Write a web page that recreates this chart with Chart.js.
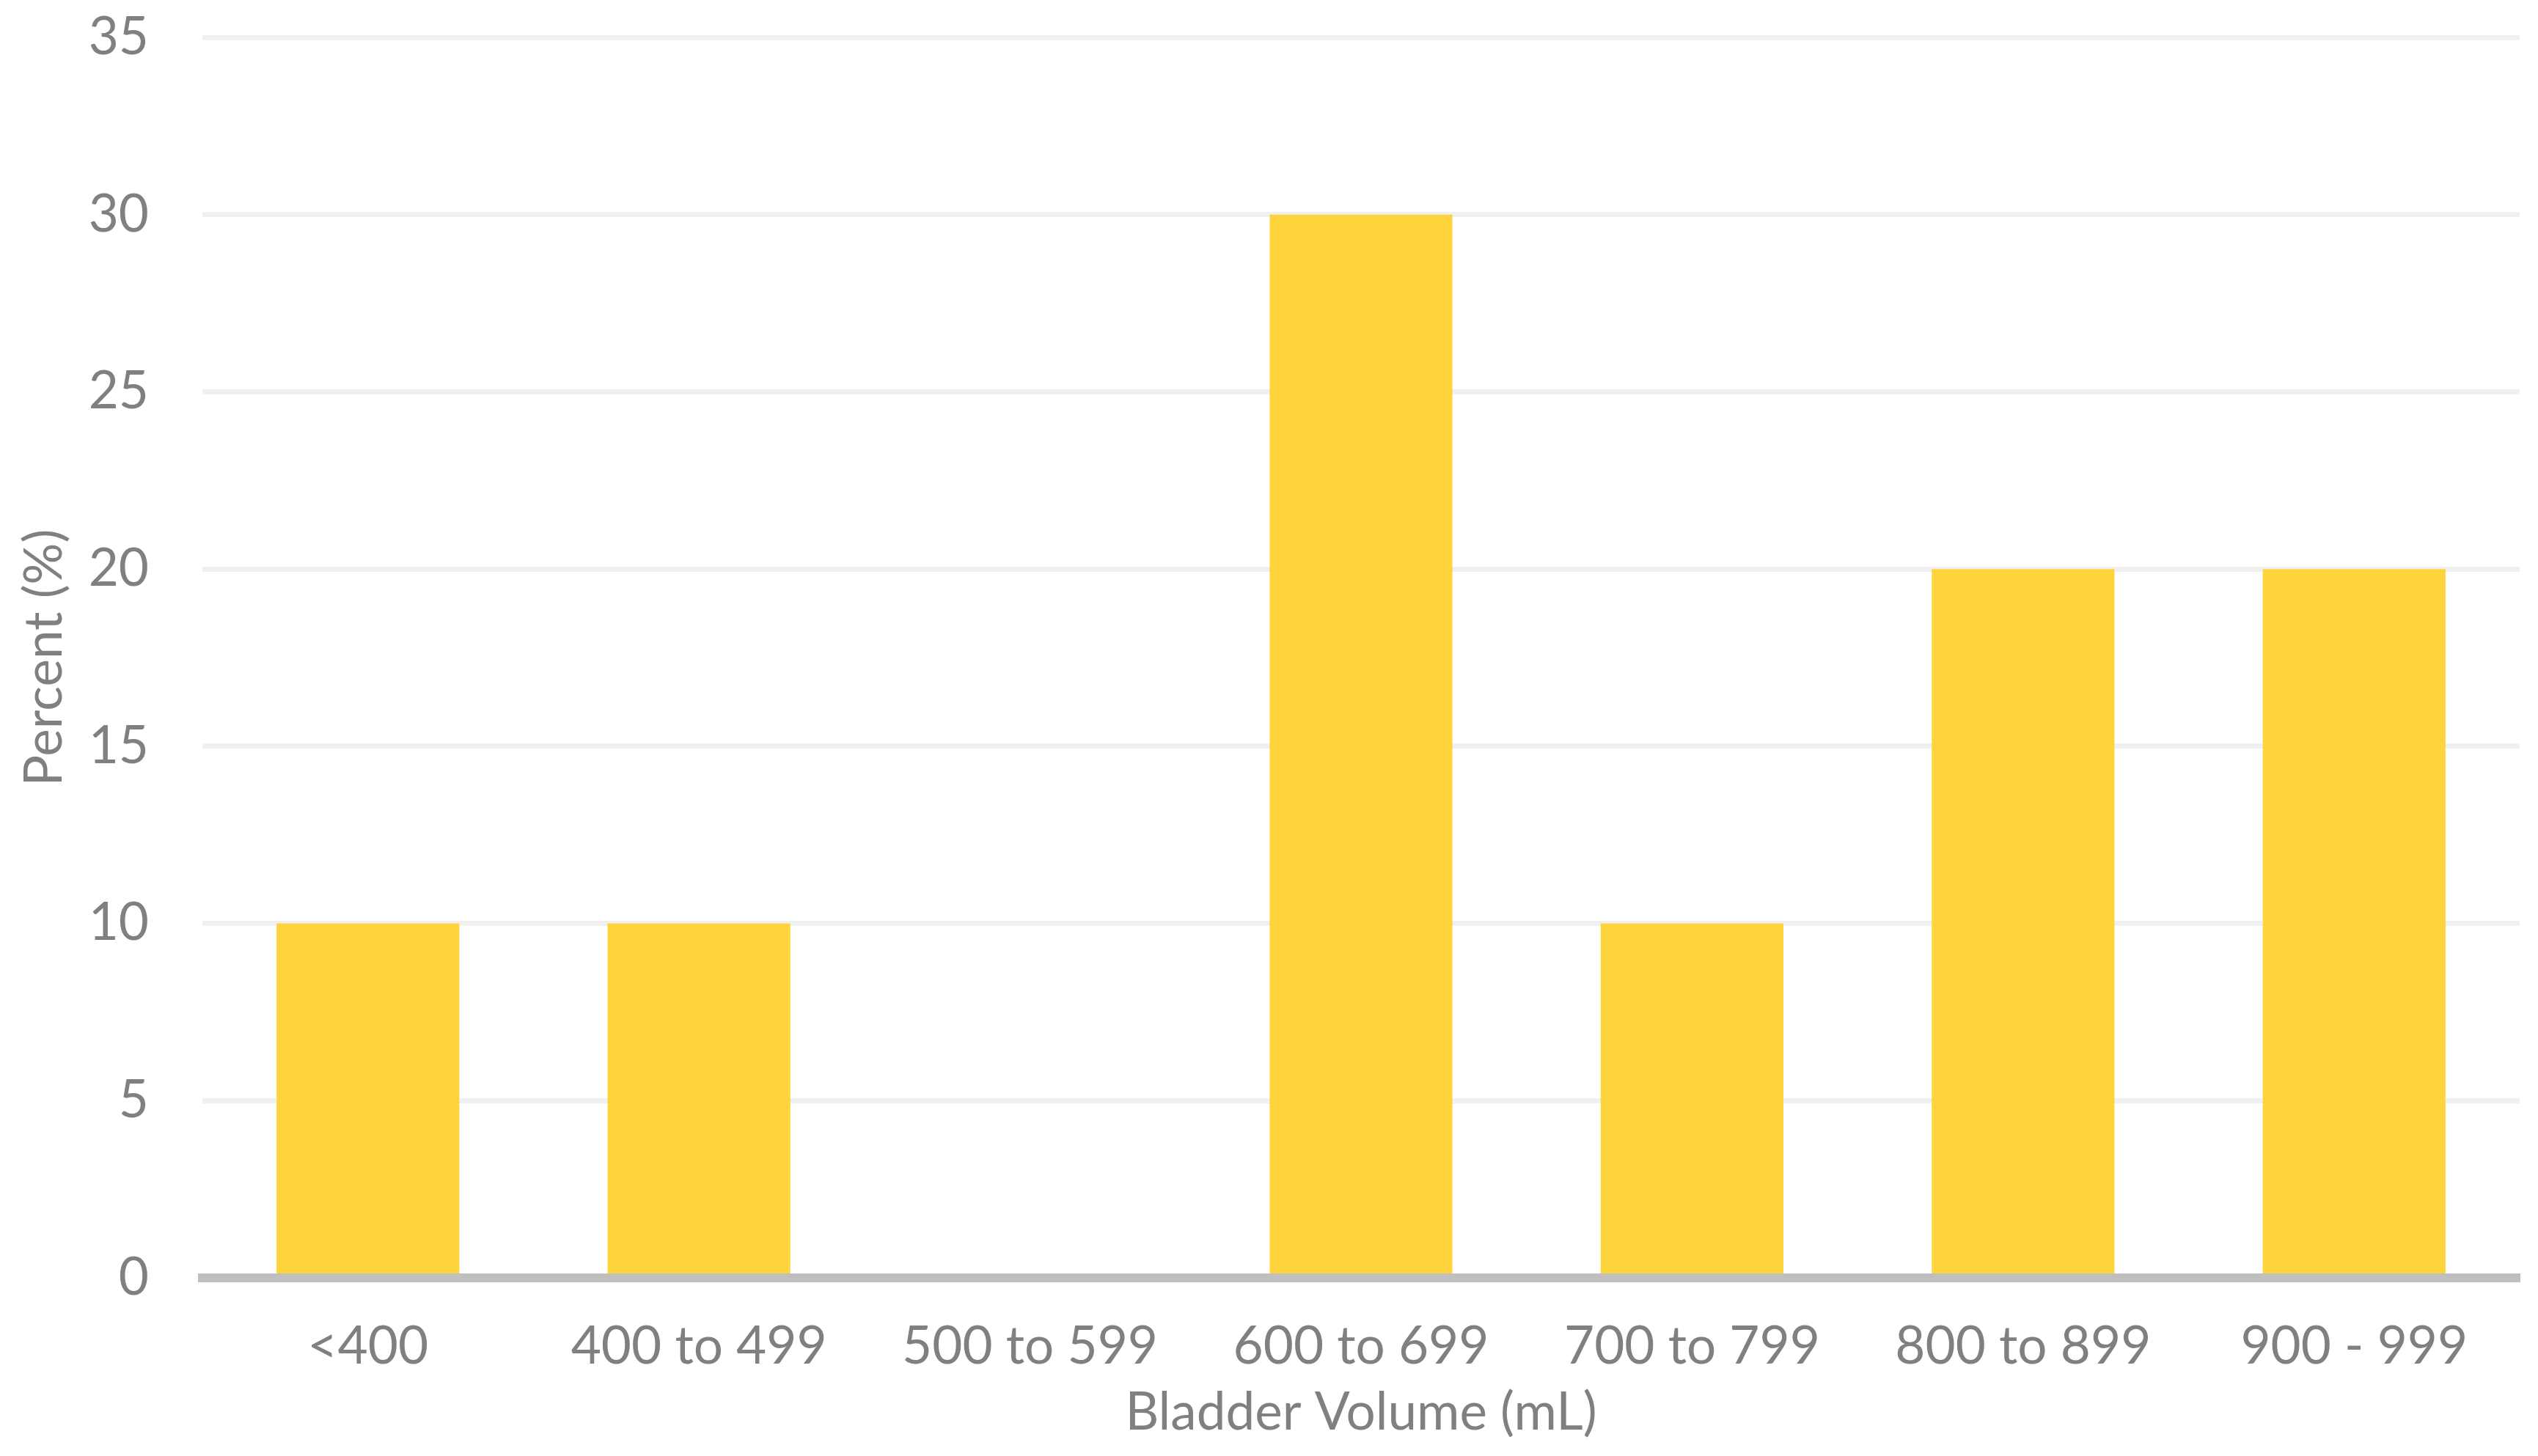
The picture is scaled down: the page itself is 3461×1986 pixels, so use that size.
<!DOCTYPE html>
<html>
<head>
<meta charset="utf-8">
<script src="https://cdn.jsdelivr.net/npm/chart.js@4/dist/chart.umd.min.js"></script>
<style>
  html, body { margin: 0; padding: 0; background: #fff; }
  #wrap { width: 3461px; height: 1986px; position: relative; }
</style>
</head>
<body>
<div id="wrap"><canvas id="volumeChart"></canvas></div>
<script>
/* ─────────────────────────────────────────────
   Data
───────────────────────────────────────────── */
const volumeBins = ['<400', '400 to 499', '500 to 599', '600 to 699', '700 to 799', '800 to 899', '900 - 999'];
const percentValues = [10, 10, 0, 30, 10, 20, 20];
const yTicks = [0, 5, 10, 15, 20, 25, 30, 35];

const fontFamily = 'Lato, "Open Sans", sans-serif';
const colors = {
  bar: '#fdd43b',
  text: '#808080',
  grid: '#f0f0f0',
  axis: '#bfbfbf',
};

/* ─────────────────────────────────────────────
   Chart
───────────────────────────────────────────── */
new Chart(document.getElementById('volumeChart'), {
  type: 'bar',
  data: {
    labels: volumeBins,
    datasets: [{
      label: 'Percent',
      data: percentValues,
      backgroundColor: colors.bar,
      borderWidth: 0,
      barPercentage: 0.552,
      categoryPercentage: 1,
    }]
  },
  options: {
    responsive: true,
    maintainAspectRatio: false,
    animation: false,
    layout: { padding: { top: 51, right: 25, left: 0, bottom: 0 } },
    plugins: {
      legend: { display: false },
      tooltip: { enabled: false },
    },
    scales: {
      x: {
        grid: { display: false, drawTicks: false },
        // axis line sits on top of the bars, like the reference
        border: { display: true, color: colors.axis, width: 12, z: 1 },
        ticks: {
          color: colors.text,
          font: { family: fontFamily, size: 71 },
          padding: 52,
          maxRotation: 0,
          autoSkip: false,
        },
        title: {
          display: true,
          text: 'Bladder Volume (mL)',
          color: colors.text,
          font: { family: fontFamily, size: 71 },
          padding: { top: 0, bottom: 16 },
        },
        afterFit: (scale) => {
          scale.height = 243;
          scale.paddingLeft = 0;
          scale.paddingRight = 0;
        },
      },
      y: {
        min: 0,
        max: 35,
        afterBuildTicks: (scale) => { scale.ticks = yTicks.map(v => ({ value: v })); },
        grid: { color: colors.grid, lineWidth: 7, drawTicks: false },
        border: { display: false },
        ticks: {
          color: colors.text,
          font: { family: fontFamily, size: 71 },
          padding: 73,
        },
        title: {
          display: true,
          text: 'Percent (%)',
          color: colors.text,
          font: { family: fontFamily, size: 71 },
          padding: { top: 19, bottom: 0 },
        },
        afterFit: (scale) => {
          scale.width = 276;
          scale.paddingTop = 0;
          scale.paddingBottom = 0;
        },
      }
    }
  }
});
</script>
</body>
</html>
